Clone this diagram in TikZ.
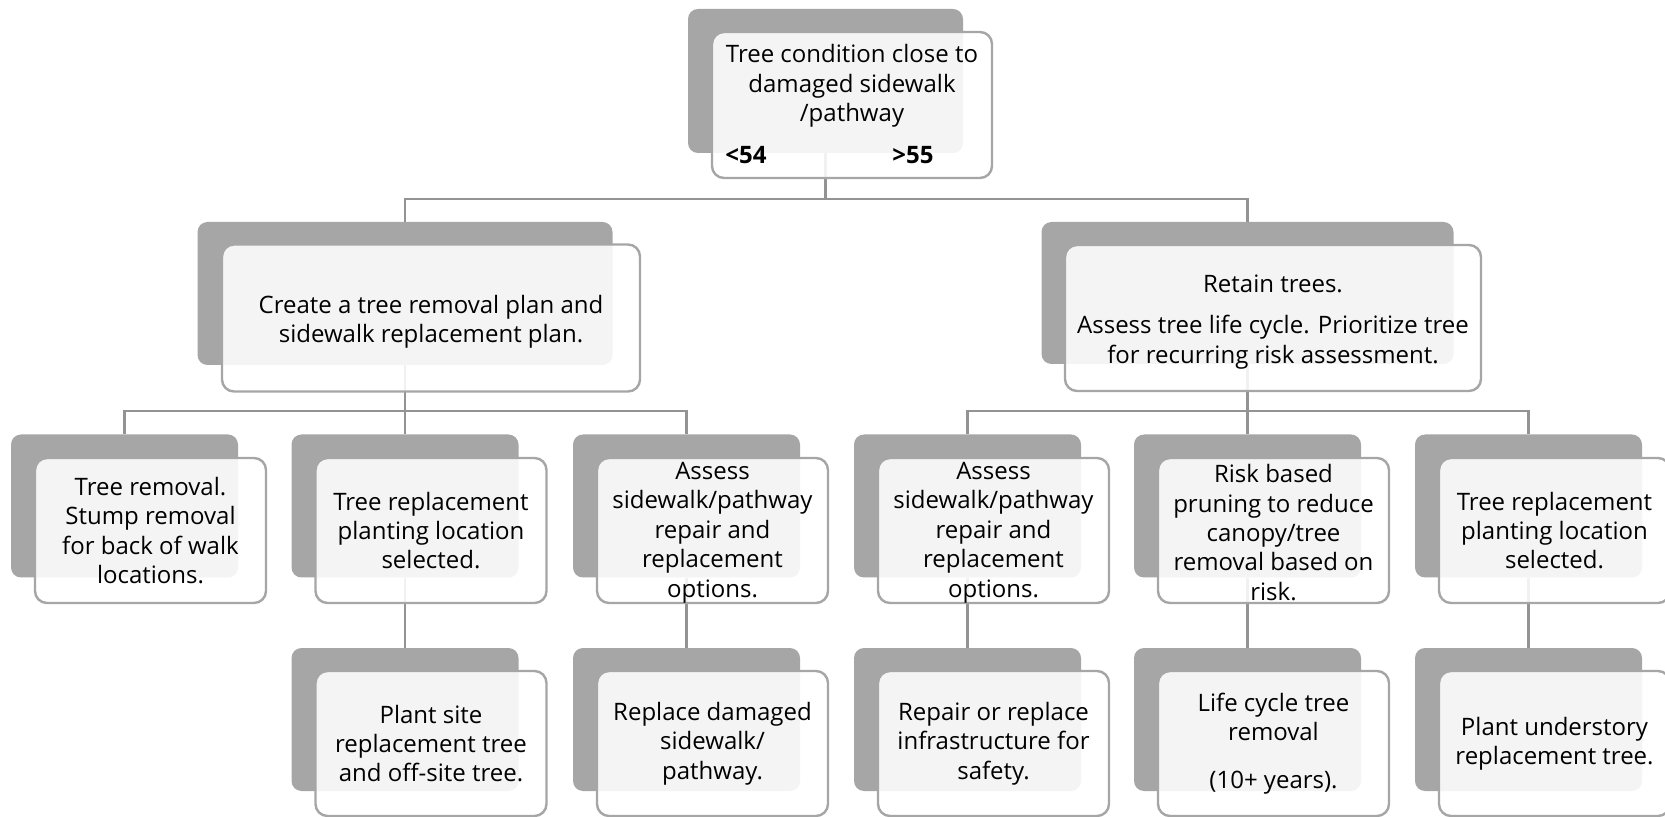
\documentclass[tikz,border=0pt]{standalone}
\usepackage{fontspec}
\setmainfont{Open Sans}
\definecolor{backgray}{HTML}{A6A6A6}
\definecolor{linegray}{HTML}{939393}
\begin{document}
\begin{tikzpicture}[x=0.5pt,y=-0.5pt,
  back/.style={draw=none, fill=backgray, rounded corners=5pt, inner sep=0pt},
  leafback/.style={back, minimum width=113.5pt, minimum height=71.5pt},
  front/.style={draw=backgray, line width=1.2pt, fill=white, fill opacity=0.88, text opacity=1,
    rounded corners=6pt, align=center, inner sep=0pt, text=black,
    font=\fontsize{12pt}{14.7pt}\selectfont},
  leaffront/.style={front, minimum width=115.5pt, minimum height=72.5pt},
  txt/.style={inner sep=0pt, align=center, text=black, font=\fontsize{12pt}{14.7pt}\selectfont},
  conn/.style={draw=linegray, line width=1.3pt},
]
\useasboundingbox (0,0) rectangle (1665,817);

% back (gray) boxes
\node[back, minimum width=137.5pt, minimum height=72pt] (g0) at (825.5,81) {};
\node[back, minimum width=207.5pt, minimum height=71.5pt] (g1) at (405,293.5) {};
\node[back, minimum width=206pt, minimum height=71pt] (g2) at (1247.5,293) {};
\node[leafback] (g11) at (124.5,506) {};
\node[leafback] (g12) at (405,506) {};
\node[leafback] (g13) at (686.5,506) {};
\node[leafback] (g21) at (967.5,506) {};
\node[leafback] (g22) at (1247.5,506) {};
\node[leafback] (g23) at (1528.5,506) {};
\node[leafback] (g12c) at (405,719.5) {};
\node[leafback] (g13c) at (686.5,719.5) {};
\node[leafback] (g21c) at (967.5,719.5) {};
\node[leafback] (g22c) at (1247.5,719.5) {};
\node[leafback] (g23c) at (1528.5,719.5) {};

% connectors
\draw[conn] (g0.south) -- (g0.south |- 0,199) -| (g1.north);
\draw[conn] (g0.south |- 0,199) -| (g2.north);
\draw[conn] (g1.south) -- (g12.north);
\draw[conn] (g1.south |- 0,411) -| (g11.north);
\draw[conn] (g1.south |- 0,411) -| (g13.north);
\draw[conn] (g2.south) -- (g22.north);
\draw[conn] (g2.south |- 0,411) -| (g21.north);
\draw[conn] (g2.south |- 0,411) -| (g23.north);
\draw[conn] (g12.south) -- (g12c.north);
\draw[conn] (g13.south) -- (g13c.north);
\draw[conn] (g21.south) -- (g21c.north);
\draw[conn] (g22.south) -- (g22c.north);
\draw[conn] (g23.south) -- (g23c.north);

% front boxes
\node[front, minimum width=140pt, minimum height=73pt] (f0) at (852,105) {};
\node[txt] (t0) at (852,86) {Tree condition close to\\damaged sidewalk\\/pathway};
\node[txt, anchor=west, font=\fontsize{12pt}{14.7pt}\selectfont\bfseries] (lt) at (725,155) {<54};
\node[txt, anchor=west, font=\fontsize{12pt}{14.7pt}\selectfont\bfseries] (gt) at (892,155) {>55};

\node[front, minimum width=209pt, minimum height=73.5pt] (f1) at (431,318) {};
\node[txt] (t1) at (431,321.5) {Create a tree removal plan and\\sidewalk replacement plan.};
\node[front, minimum width=208pt, minimum height=73pt] (f2) at (1273,318) {};
\node[txt] (t2) at (1273,322) {Retain trees.\\[6pt]Assess tree life cycle. Prioritize tree\\for recurring risk assessment.};

\node[leaffront] (f11) at (150.5,530.5) {Tree removal.\\Stump removal\\for back of walk\\locations.};
\node[leaffront] (f12) at (431,530.5) {Tree replacement\\planting location\\selected.};
\node[leaffront] (f13) at (712.5,530.5) {};
\node[txt] (t13) at (712.5,532.5) {Assess\\sidewalk/pathway\\repair and\\replacement\\options.};
\node[leaffront] (f21) at (993.5,530.5) {};
\node[txt] (t21) at (993.5,532.5) {Assess\\sidewalk/pathway\\repair and\\replacement\\options.};
\node[leaffront] (f22) at (1273.5,530.5) {};
\node[txt] (t22) at (1273.5,532.5) {Risk based\\pruning to reduce\\canopy/tree\\removal based on\\risk.};
\node[leaffront] (f23) at (1554.5,530.5) {Tree replacement\\planting location\\selected.};

\node[leaffront] (f12c) at (431,743.5) {Plant site\\replacement tree\\and off-site tree.};
\node[leaffront] (f13c) at (712.5,743.5) {Replace damaged\\sidewalk/\\pathway.};
\node[leaffront] (f21c) at (993.5,743.5) {Repair or replace\\infrastructure for\\safety.};
\node[leaffront] (f22c) at (1273.5,743.5) {Life cycle tree\\removal\\[9pt](10+ years).};
\node[leaffront] (f23c) at (1554.5,743.5) {Plant understory\\replacement tree.};
\end{tikzpicture}
\end{document}
